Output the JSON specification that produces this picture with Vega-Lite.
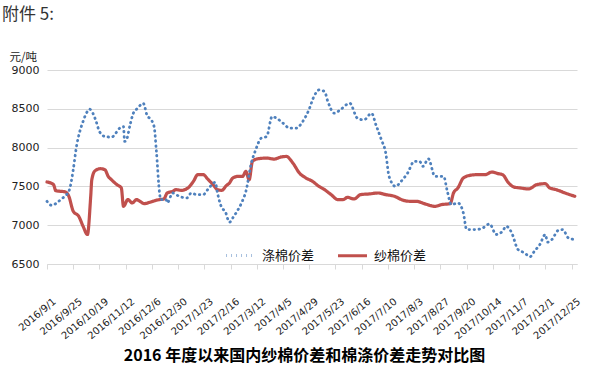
{
  "$schema": "https://vega.github.io/schema/vega-lite/v6.json",
  "autosize": "none",
  "width": 530,
  "height": 194,
  "padding": {"left": 47, "top": 70, "right": 35, "bottom": 102},
  "background": "white",
  "title": {
    "text": "附件 5:",
    "anchor": "start",
    "frame": "group",
    "dx": -45,
    "offset": 27,
    "font": "Noto Sans CJK SC",
    "fontSize": 17,
    "fontWeight": "normal",
    "color": "#333333"
  },
  "config": {
    "view": {"stroke": null},
    "axis": {"gridColor": "#d9d9d9", "gridWidth": 1}
  },
  "data": {
    "values": [
      {"date": "2016-09-01", "series": "纱棉价差", "value": 7557},
      {"date": "2016-09-07", "series": "纱棉价差", "value": 7522},
      {"date": "2016-09-09", "series": "纱棉价差", "value": 7445},
      {"date": "2016-09-18", "series": "纱棉价差", "value": 7428},
      {"date": "2016-09-21", "series": "纱棉价差", "value": 7372},
      {"date": "2016-09-25", "series": "纱棉价差", "value": 7180},
      {"date": "2016-09-30", "series": "纱棉价差", "value": 7115},
      {"date": "2016-10-04", "series": "纱棉价差", "value": 6987},
      {"date": "2016-10-08", "series": "纱棉价差", "value": 6880},
      {"date": "2016-10-11", "series": "纱棉价差", "value": 7372},
      {"date": "2016-10-12", "series": "纱棉价差", "value": 7586},
      {"date": "2016-10-15", "series": "纱棉价差", "value": 7702},
      {"date": "2016-10-20", "series": "纱棉价差", "value": 7728},
      {"date": "2016-10-24", "series": "纱棉价差", "value": 7715},
      {"date": "2016-10-27", "series": "纱棉价差", "value": 7629},
      {"date": "2016-10-30", "series": "纱棉价差", "value": 7586},
      {"date": "2016-11-04", "series": "纱棉价差", "value": 7522},
      {"date": "2016-11-08", "series": "纱棉价差", "value": 7480},
      {"date": "2016-11-10", "series": "纱棉价差", "value": 7243},
      {"date": "2016-11-14", "series": "纱棉价差", "value": 7330},
      {"date": "2016-11-18", "series": "纱棉价差", "value": 7287},
      {"date": "2016-11-22", "series": "纱棉价差", "value": 7330},
      {"date": "2016-11-25", "series": "纱棉价差", "value": 7308},
      {"date": "2016-11-29", "series": "纱棉价差", "value": 7278},
      {"date": "2016-12-04", "series": "纱棉价差", "value": 7295},
      {"date": "2016-12-09", "series": "纱棉价差", "value": 7317},
      {"date": "2016-12-13", "series": "纱棉价差", "value": 7330},
      {"date": "2016-12-17", "series": "纱棉价差", "value": 7338},
      {"date": "2016-12-20", "series": "纱棉价差", "value": 7415},
      {"date": "2016-12-25", "series": "纱棉价差", "value": 7436},
      {"date": "2016-12-28", "series": "纱棉价差", "value": 7458},
      {"date": "2017-01-02", "series": "纱棉价差", "value": 7449},
      {"date": "2017-01-08", "series": "纱棉价差", "value": 7480},
      {"date": "2017-01-13", "series": "纱棉价差", "value": 7565},
      {"date": "2017-01-17", "series": "纱棉价差", "value": 7651},
      {"date": "2017-01-22", "series": "纱棉价差", "value": 7651},
      {"date": "2017-01-26", "series": "纱棉价差", "value": 7596},
      {"date": "2017-01-31", "series": "纱棉价差", "value": 7522},
      {"date": "2017-02-04", "series": "纱棉价差", "value": 7458},
      {"date": "2017-02-08", "series": "纱棉价差", "value": 7449},
      {"date": "2017-02-12", "series": "纱棉价差", "value": 7509},
      {"date": "2017-02-15", "series": "纱棉价差", "value": 7544},
      {"date": "2017-02-18", "series": "纱棉价差", "value": 7608},
      {"date": "2017-02-23", "series": "纱棉价差", "value": 7629},
      {"date": "2017-02-27", "series": "纱棉价差", "value": 7629},
      {"date": "2017-03-02", "series": "纱棉价差", "value": 7693},
      {"date": "2017-03-05", "series": "纱棉价差", "value": 7586},
      {"date": "2017-03-08", "series": "纱棉价差", "value": 7822},
      {"date": "2017-03-13", "series": "纱棉价差", "value": 7856},
      {"date": "2017-03-21", "series": "纱棉价差", "value": 7865},
      {"date": "2017-03-28", "series": "纱棉价差", "value": 7852},
      {"date": "2017-04-03", "series": "纱棉价差", "value": 7878},
      {"date": "2017-04-08", "series": "纱棉价差", "value": 7886},
      {"date": "2017-04-14", "series": "纱棉价差", "value": 7801},
      {"date": "2017-04-20", "series": "纱棉价差", "value": 7672},
      {"date": "2017-04-26", "series": "纱棉价差", "value": 7608},
      {"date": "2017-05-02", "series": "纱棉价差", "value": 7565},
      {"date": "2017-05-07", "series": "纱棉价差", "value": 7509},
      {"date": "2017-05-13", "series": "纱棉价差", "value": 7458},
      {"date": "2017-05-19", "series": "纱棉价差", "value": 7394},
      {"date": "2017-05-25", "series": "纱棉价差", "value": 7330},
      {"date": "2017-05-30", "series": "纱棉价差", "value": 7330},
      {"date": "2017-06-03", "series": "纱棉价差", "value": 7359},
      {"date": "2017-06-09", "series": "纱棉价差", "value": 7338},
      {"date": "2017-06-15", "series": "纱棉价差", "value": 7394},
      {"date": "2017-06-23", "series": "纱棉价差", "value": 7403},
      {"date": "2017-07-01", "series": "纱棉价差", "value": 7415},
      {"date": "2017-07-08", "series": "纱棉价差", "value": 7394},
      {"date": "2017-07-16", "series": "纱棉价差", "value": 7372},
      {"date": "2017-07-24", "series": "纱棉价差", "value": 7321},
      {"date": "2017-07-30", "series": "纱棉价差", "value": 7308},
      {"date": "2017-08-05", "series": "纱棉价差", "value": 7308},
      {"date": "2017-08-13", "series": "纱棉价差", "value": 7274},
      {"date": "2017-08-22", "series": "纱棉价差", "value": 7243},
      {"date": "2017-08-28", "series": "纱棉价差", "value": 7265},
      {"date": "2017-09-05", "series": "纱棉价差", "value": 7278},
      {"date": "2017-09-08", "series": "纱棉价差", "value": 7415},
      {"date": "2017-09-12", "series": "纱棉价差", "value": 7480},
      {"date": "2017-09-17", "series": "纱棉价差", "value": 7608},
      {"date": "2017-09-23", "series": "纱棉价差", "value": 7642},
      {"date": "2017-09-29", "series": "纱棉价差", "value": 7651},
      {"date": "2017-10-07", "series": "纱棉价差", "value": 7651},
      {"date": "2017-10-13", "series": "纱棉价差", "value": 7685},
      {"date": "2017-10-19", "series": "纱棉价差", "value": 7664},
      {"date": "2017-10-23", "series": "纱棉价差", "value": 7651},
      {"date": "2017-10-28", "series": "纱棉价差", "value": 7552},
      {"date": "2017-11-02", "series": "纱棉价差", "value": 7493},
      {"date": "2017-11-08", "series": "纱棉价差", "value": 7480},
      {"date": "2017-11-16", "series": "纱棉价差", "value": 7467},
      {"date": "2017-11-19", "series": "纱棉价差", "value": 7488},
      {"date": "2017-11-23", "series": "纱棉价差", "value": 7522},
      {"date": "2017-12-01", "series": "纱棉价差", "value": 7535},
      {"date": "2017-12-05", "series": "纱棉价差", "value": 7480},
      {"date": "2017-12-11", "series": "纱棉价差", "value": 7458},
      {"date": "2017-12-19", "series": "纱棉价差", "value": 7415},
      {"date": "2017-12-28", "series": "纱棉价差", "value": 7372},

      {"date": "2016-09-01", "series": "涤棉价差", "value": 7308},
      {"date": "2016-09-05", "series": "涤棉价差", "value": 7257},
      {"date": "2016-09-10", "series": "涤棉价差", "value": 7287},
      {"date": "2016-09-14", "series": "涤棉价差", "value": 7338},
      {"date": "2016-09-19", "series": "涤棉价差", "value": 7394},
      {"date": "2016-09-22", "series": "涤棉价差", "value": 7480},
      {"date": "2016-09-25", "series": "涤棉价差", "value": 7715},
      {"date": "2016-09-28", "series": "涤棉价差", "value": 8015},
      {"date": "2016-10-01", "series": "涤棉价差", "value": 8207},
      {"date": "2016-10-04", "series": "涤棉价差", "value": 8336},
      {"date": "2016-10-07", "series": "涤棉价差", "value": 8443},
      {"date": "2016-10-10", "series": "涤棉价差", "value": 8495},
      {"date": "2016-10-13", "series": "涤棉价差", "value": 8443},
      {"date": "2016-10-16", "series": "涤棉价差", "value": 8336},
      {"date": "2016-10-19", "series": "涤棉价差", "value": 8207},
      {"date": "2016-10-24", "series": "涤棉价差", "value": 8143},
      {"date": "2016-10-30", "series": "涤棉价差", "value": 8135},
      {"date": "2016-11-02", "series": "涤棉价差", "value": 8165},
      {"date": "2016-11-05", "series": "涤棉价差", "value": 8229},
      {"date": "2016-11-10", "series": "涤棉价差", "value": 8271},
      {"date": "2016-11-11", "series": "涤棉价差", "value": 8079},
      {"date": "2016-11-13", "series": "涤棉价差", "value": 8110},
      {"date": "2016-11-16", "series": "涤棉价差", "value": 8293},
      {"date": "2016-11-19", "series": "涤棉价差", "value": 8443},
      {"date": "2016-11-23", "series": "涤棉价差", "value": 8508},
      {"date": "2016-11-28", "series": "涤棉价差", "value": 8572},
      {"date": "2016-12-02", "series": "涤棉价差", "value": 8400},
      {"date": "2016-12-04", "series": "涤棉价差", "value": 8379},
      {"date": "2016-12-08", "series": "涤棉价差", "value": 8271},
      {"date": "2016-12-10", "series": "涤棉价差", "value": 7972},
      {"date": "2016-12-13", "series": "涤棉价差", "value": 7415},
      {"date": "2016-12-14", "series": "涤棉价差", "value": 7330},
      {"date": "2016-12-19", "series": "涤棉价差", "value": 7330},
      {"date": "2016-12-20", "series": "涤棉价差", "value": 7287},
      {"date": "2016-12-25", "series": "涤棉价差", "value": 7415},
      {"date": "2016-12-31", "series": "涤棉价差", "value": 7372},
      {"date": "2017-01-07", "series": "涤棉价差", "value": 7351},
      {"date": "2017-01-11", "series": "涤棉价差", "value": 7415},
      {"date": "2017-01-16", "series": "涤棉价差", "value": 7394},
      {"date": "2017-01-22", "series": "涤棉价差", "value": 7394},
      {"date": "2017-01-26", "series": "涤棉价差", "value": 7458},
      {"date": "2017-02-02", "series": "涤棉价差", "value": 7552},
      {"date": "2017-02-04", "series": "涤棉价差", "value": 7415},
      {"date": "2017-02-08", "series": "涤棉价差", "value": 7222},
      {"date": "2017-02-11", "series": "涤棉价差", "value": 7180},
      {"date": "2017-02-15", "series": "涤棉价差", "value": 7038},
      {"date": "2017-02-18", "series": "涤棉价差", "value": 7094},
      {"date": "2017-02-21", "series": "涤棉价差", "value": 7158},
      {"date": "2017-02-26", "series": "涤棉价差", "value": 7287},
      {"date": "2017-03-02", "series": "涤棉价差", "value": 7436},
      {"date": "2017-03-07", "series": "涤棉价差", "value": 7801},
      {"date": "2017-03-11", "series": "涤棉价差", "value": 7972},
      {"date": "2017-03-16", "series": "涤棉价差", "value": 8122},
      {"date": "2017-03-21", "series": "涤棉价差", "value": 8143},
      {"date": "2017-03-26", "series": "涤棉价差", "value": 8400},
      {"date": "2017-03-30", "series": "涤棉价差", "value": 8379},
      {"date": "2017-04-05", "series": "涤棉价差", "value": 8315},
      {"date": "2017-04-11", "series": "涤棉价差", "value": 8250},
      {"date": "2017-04-17", "series": "涤棉价差", "value": 8250},
      {"date": "2017-04-23", "series": "涤棉价差", "value": 8336},
      {"date": "2017-04-28", "series": "涤棉价差", "value": 8465},
      {"date": "2017-05-04", "series": "涤棉价差", "value": 8679},
      {"date": "2017-05-08", "series": "涤棉价差", "value": 8743},
      {"date": "2017-05-13", "series": "涤棉价差", "value": 8722},
      {"date": "2017-05-16", "series": "涤棉价差", "value": 8593},
      {"date": "2017-05-22", "series": "涤棉价差", "value": 8443},
      {"date": "2017-05-28", "series": "涤棉价差", "value": 8495},
      {"date": "2017-06-05", "series": "涤棉价差", "value": 8572},
      {"date": "2017-06-12", "series": "涤棉价差", "value": 8379},
      {"date": "2017-06-18", "series": "涤棉价差", "value": 8357},
      {"date": "2017-06-25", "series": "涤棉价差", "value": 8443},
      {"date": "2017-06-29", "series": "涤棉价差", "value": 8293},
      {"date": "2017-07-04", "series": "涤棉价差", "value": 8101},
      {"date": "2017-07-08", "series": "涤棉价差", "value": 7929},
      {"date": "2017-07-11", "series": "涤棉价差", "value": 7629},
      {"date": "2017-07-17", "series": "涤棉价差", "value": 7500},
      {"date": "2017-07-22", "series": "涤棉价差", "value": 7565},
      {"date": "2017-07-28", "series": "涤棉价差", "value": 7672},
      {"date": "2017-08-03", "series": "涤棉价差", "value": 7822},
      {"date": "2017-08-08", "series": "涤棉价差", "value": 7822},
      {"date": "2017-08-11", "series": "涤棉价差", "value": 7758},
      {"date": "2017-08-16", "series": "涤棉价差", "value": 7856},
      {"date": "2017-08-22", "series": "涤棉价差", "value": 7629},
      {"date": "2017-08-30", "series": "涤棉价差", "value": 7629},
      {"date": "2017-09-02", "series": "涤棉价差", "value": 7458},
      {"date": "2017-09-06", "series": "涤棉价差", "value": 7265},
      {"date": "2017-09-12", "series": "涤棉价差", "value": 7287},
      {"date": "2017-09-17", "series": "涤棉价差", "value": 7158},
      {"date": "2017-09-20", "series": "涤棉价差", "value": 6944},
      {"date": "2017-09-29", "series": "涤棉价差", "value": 6944},
      {"date": "2017-10-05", "series": "涤棉价差", "value": 6966},
      {"date": "2017-10-11", "series": "涤棉价差", "value": 7017},
      {"date": "2017-10-17", "series": "涤棉价差", "value": 6880},
      {"date": "2017-10-23", "series": "涤棉价差", "value": 6923},
      {"date": "2017-10-26", "series": "涤棉价差", "value": 6987},
      {"date": "2017-10-31", "series": "涤棉价差", "value": 6910},
      {"date": "2017-11-06", "series": "涤棉价差", "value": 6687},
      {"date": "2017-11-12", "series": "涤棉价差", "value": 6644},
      {"date": "2017-11-17", "series": "涤棉价差", "value": 6593},
      {"date": "2017-11-21", "series": "涤棉价差", "value": 6665},
      {"date": "2017-11-26", "series": "涤棉价差", "value": 6751},
      {"date": "2017-12-01", "series": "涤棉价差", "value": 6880},
      {"date": "2017-12-03", "series": "涤棉价差", "value": 6781},
      {"date": "2017-12-07", "series": "涤棉价差", "value": 6815},
      {"date": "2017-12-13", "series": "涤棉价差", "value": 6935},
      {"date": "2017-12-17", "series": "涤棉价差", "value": 6944},
      {"date": "2017-12-22", "series": "涤棉价差", "value": 6837},
      {"date": "2017-12-28", "series": "涤棉价差", "value": 6815}
    ]
  },
  "mark": {"type": "line", "strokeCap": "round", "strokeJoin": "round", "interpolate": "monotone"},
  "encoding": {
    "x": {
      "field": "date",
      "type": "temporal",
      "scale": {"type": "utc", "domain": [{"year": 2016, "month": 9, "date": 1, "utc": true}, {"year": 2017, "month": 12, "date": 30, "utc": true}]},
      "axis": {
        "values": [
          {"year": 2016, "month": 9, "date": 1, "utc": true},
          {"year": 2016, "month": 9, "date": 25, "utc": true},
          {"year": 2016, "month": 10, "date": 19, "utc": true},
          {"year": 2016, "month": 11, "date": 12, "utc": true},
          {"year": 2016, "month": 12, "date": 6, "utc": true},
          {"year": 2016, "month": 12, "date": 30, "utc": true},
          {"year": 2017, "month": 1, "date": 23, "utc": true},
          {"year": 2017, "month": 2, "date": 16, "utc": true},
          {"year": 2017, "month": 3, "date": 12, "utc": true},
          {"year": 2017, "month": 4, "date": 5, "utc": true},
          {"year": 2017, "month": 4, "date": 29, "utc": true},
          {"year": 2017, "month": 5, "date": 23, "utc": true},
          {"year": 2017, "month": 6, "date": 16, "utc": true},
          {"year": 2017, "month": 7, "date": 10, "utc": true},
          {"year": 2017, "month": 8, "date": 3, "utc": true},
          {"year": 2017, "month": 8, "date": 27, "utc": true},
          {"year": 2017, "month": 9, "date": 20, "utc": true},
          {"year": 2017, "month": 10, "date": 14, "utc": true},
          {"year": 2017, "month": 11, "date": 7, "utc": true},
          {"year": 2017, "month": 12, "date": 1, "utc": true},
          {"year": 2017, "month": 12, "date": 25, "utc": true}
        ],
        "format": "%Y/%-m/%-d",
        "labelAngle": -40,
        "labelFont": "DejaVu Sans",
        "labelFontSize": 10,
        "labelColor": "#222222",
        "labelPadding": 27,
        "labelOffset": 4,
        "labelOverlap": false,
        "labelFlush": false,
        "grid": false,
        "domain": true,
        "domainColor": "#d9d9d9",
        "ticks": true,
        "tickSize": 5,
        "tickColor": "#d9d9d9",
        "title": "2016 年度以来国内纱棉价差和棉涤价差走势对比图",
        "titleFont": "Noto Sans CJK SC",
        "titleFontSize": 16,
        "titleFontWeight": "bold",
        "titleColor": "#000000",
        "titleX": 257,
        "titleY": 96,
        "titleAlign": "center",
        "titleBaseline": "alphabetic",
        "titleAnchor": null
      }
    },
    "y": {
      "field": "value",
      "type": "quantitative",
      "scale": {"domain": [6500, 9000], "nice": false, "zero": false},
      "axis": {
        "values": [6500, 7000, 7500, 8000, 8500, 9000],
        "format": "d",
        "labelFont": "DejaVu Sans",
        "labelFontSize": 11,
        "labelColor": "#222222",
        "labelPadding": 8,
        "ticks": false,
        "domain": false,
        "grid": true,
        "title": "元/吨",
        "titleAngle": 0,
        "titleX": -38,
        "titleY": -10,
        "titleAlign": "left",
        "titleBaseline": "alphabetic",
        "titleFont": "Noto Sans CJK SC",
        "titleFontSize": 11.5,
        "titleFontWeight": "normal",
        "titleColor": "#222222"
      }
    },
    "color": {
      "field": "series",
      "type": "nominal",
      "scale": {"domain": ["涤棉价差", "纱棉价差"], "range": ["#4F81BD", "#C0504D"]},
      "legend": {
        "title": null,
        "orient": "none",
        "direction": "horizontal",
        "legendX": 178,
        "legendY": 169,
        "symbolType": "stroke",
        "symbolSize": 840,
        "symbolStrokeWidth": 3,
        "labelFont": "Noto Sans CJK SC",
        "labelFontSize": 13,
        "labelColor": "#111111",
        "labelOffset": 5,
        "columnPadding": 16
      }
    },
    "strokeDash": {
      "field": "series",
      "type": "nominal",
      "scale": {"domain": ["涤棉价差", "纱棉价差"], "range": [[0.5, 4.5], [1, 0]]},
      "legend": null
    },
    "strokeWidth": {
      "field": "series",
      "type": "nominal",
      "scale": {"domain": ["涤棉价差", "纱棉价差"], "range": [2.8, 3.2]},
      "legend": null
    }
  }
}
